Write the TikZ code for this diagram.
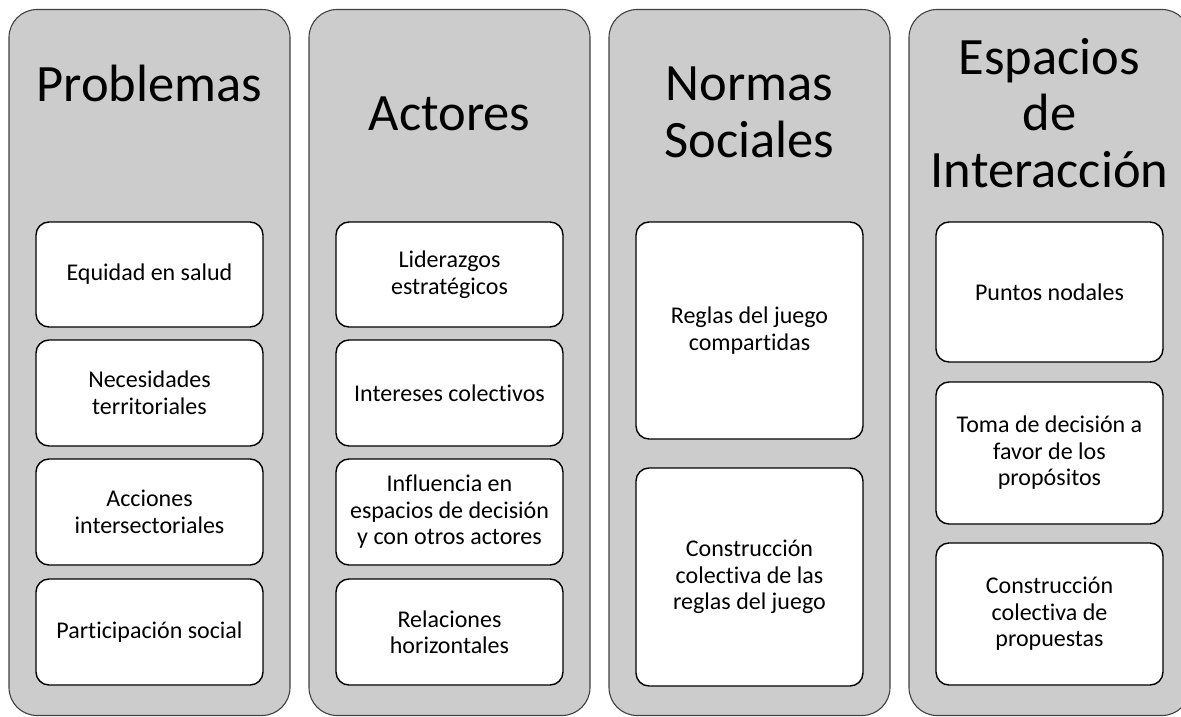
\documentclass[tikz,border=0pt]{standalone}
\usepackage{fontspec}
\setmainfont{Carlito}[Ligatures={NoCommon}]
\begin{document}
\begin{tikzpicture}[x=1pt,y=-1pt,
  colbox/.style={draw=black!75, line width=1.1pt, fill=gray!40, rounded corners=28pt,
    minimum width=281pt, minimum height=706pt, inner sep=0pt},
  itembox/.style={draw=black, line width=1.4pt, fill=white, rounded corners=13pt,
    minimum width=227pt, inner sep=0pt, align=center,
    font=\fontsize{24}{26.5}\selectfont},
  ttl/.style={anchor=base, align=center, inner sep=0pt,
    font=\fontsize{52.5}{56.5}\selectfont}]
\useasboundingbox (0,0) rectangle (1181,717);
% columns
\node[colbox] (c1) at (149.5,362.5) {};
\node[colbox] (c2) at (449.5,362.5) {};
\node[colbox] (c3) at (749.5,362.5) {};
\node[colbox] (c4) at (1049.5,362.5) {};
% titles (anchor at baseline of last line)
\node[ttl] (t1) at (149.5,101) {Problemas};
\node[ttl] (t2) at (449.5,130) {Actores};
\node[ttl] (t3) at (749.5,157) {Normas\\Sociales};
\node[ttl] (t4) at (1049.5,187) {Espacios\\de\\Interacción};
% column 1
\node[itembox, minimum height=105pt] (a1) at (149.5,274.5) {Equidad en salud};
\node[itembox, minimum height=106pt] (a2) at (149.5,393) {Necesidades\\territoriales};
\node[itembox, minimum height=106pt] (a3) at (149.5,512) {Acciones\\intersectoriales};
\node[itembox, minimum height=106pt] (a4) at (149.5,632) {Participación social};
% column 2
\node[itembox, minimum height=105pt] (b1) at (449.5,274.5) {Liderazgos\\estratégicos};
\node[itembox, minimum height=106pt] (b2) at (449.5,393) {Intereses colectivos};
\node[itembox, minimum height=106pt] (b3) at (449.5,512) {Influencia en\\espacios de decisión\\y con otros actores};
\node[itembox, minimum height=106pt] (b4) at (449.5,632) {Relaciones\\horizontales};
% column 3
\node[itembox, minimum height=217pt] (d1) at (749.5,330.5) {Reglas del juego\\compartidas};
\node[itembox, minimum height=218pt] (d2) at (749.5,577) {Construcción\\colectiva de las\\reglas del juego};
% column 4
\node[itembox, minimum height=140pt] (e1) at (1049.5,292) {Puntos nodales};
\node[itembox, minimum height=142pt] (e2) at (1049.5,453) {Toma de decisión a\\favor de los\\propósitos};
\node[itembox, minimum height=142pt] (e3) at (1049.5,614) {Construcción\\colectiva de\\propuestas};
\end{tikzpicture}
\end{document}
